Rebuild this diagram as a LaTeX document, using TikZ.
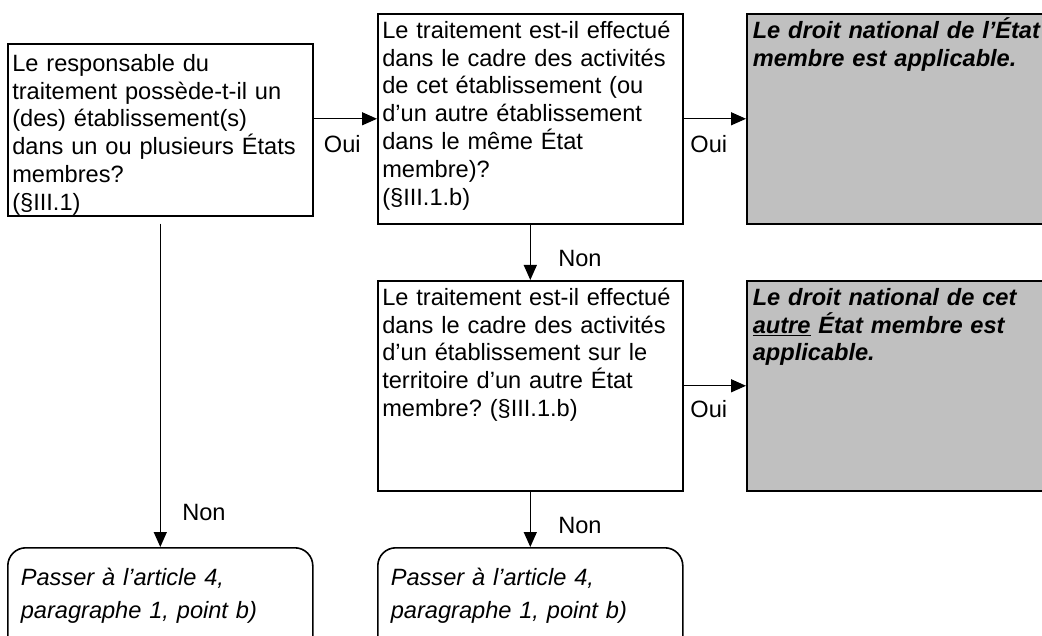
\documentclass[tikz,border=0pt]{standalone}
\usepackage{fontspec}
\setmainfont{Liberation Sans}
\usetikzlibrary{arrows.meta}
\definecolor{boxgray}{HTML}{C0C0C0}
\frenchspacing
\newcommand{\boxfont}{\fontsize{23.6}{27.8}\selectfont}
\tikzstyle{qbox}=[draw, line width=1.6pt, anchor=north west, align=left, text width=296pt, inner xsep=4.5pt, inner ysep=7pt, text height=17.5pt, text depth=178.5pt, font=\boxfont]
\tikzstyle{rbox}=[qbox, fill=boxgray, inner xsep=6pt, text width=340pt, font=\boxfont\bfseries\itshape]
\tikzstyle{endbox}=[qbox, rounded corners=18pt, inner xsep=13pt, text width=279pt, text height=31pt, text depth=75pt, font=\fontsize{23.6}{33}\selectfont\itshape]
\tikzstyle{flow}=[line width=1.3pt, -{Triangle[length=15pt,width=13pt]}]

\begin{document}
\begin{tikzpicture}[x=1pt, y=-1pt, font=\boxfont]
    \useasboundingbox (0,0) rectangle (1042,636);
    \clip (0,0) rectangle (1042,636);

    \node[qbox, text height=20.5pt, text depth=137.5pt] (resp) at (7,43) {Le responsable du\\ traitement possède-t-il un\\ (des) établissement(s)\\ dans un ou plusieurs États\\ membres?\\ (§III.1)};
    \node[qbox] (meme) at (377,13) {Le traitement est-il effectué\\ dans le cadre des activités\\ de cet établissement (ou\\ d’un autre établissement\\ dans le même État\\ membre)?\\ (§III.1.b)};
    \node[rbox] (droit1) at (746,13) {Le droit national de l’État\\ membre est applicable.};
    \node[qbox] (autre) at (377,280) {Le traitement est-il effectué\\ dans le cadre des activités\\ d’un établissement sur le\\ territoire d’un autre État\\ membre? (§III.1.b)};
    \node[rbox] (droit2) at (746,280) {Le droit national de cet\\ \underline{autre} État membre est\\ applicable.};
    \node[endbox] (art1) at (7,547) {Passer à l’article 4,\\ paragraphe 1, point b)};
    \node[endbox] (art2) at (377,547) {Passer à l’article 4,\\ paragraphe 1, point b)};

    \draw[flow] (resp.east |- meme.west) -- (meme.west) node[midway, anchor=base, xshift=-3pt, yshift=-34pt] (oui1) {Oui};
    \draw[flow] (meme.east) -- (droit1.west) node[midway, anchor=base, xshift=-6pt, yshift=-34pt] (oui2) {Oui};
    \draw[flow] (autre.east) -- (droit2.west) node[midway, anchor=base, xshift=-6pt, yshift=-32pt] (oui3) {Oui};
    \draw[flow] (meme.south) -- (autre.north) node[pos=.75, anchor=base west, xshift=24pt] (non1) {Non};
    \draw[flow, shorten <=7pt] (resp.south) -- (art1.north) node[pos=.92, anchor=base west, xshift=18pt] (non2) {Non};
    \draw[flow] (autre.south) -- (art2.north) node[pos=.75, anchor=base west, xshift=24pt] (non3) {Non};
\end{tikzpicture}
\end{document}
